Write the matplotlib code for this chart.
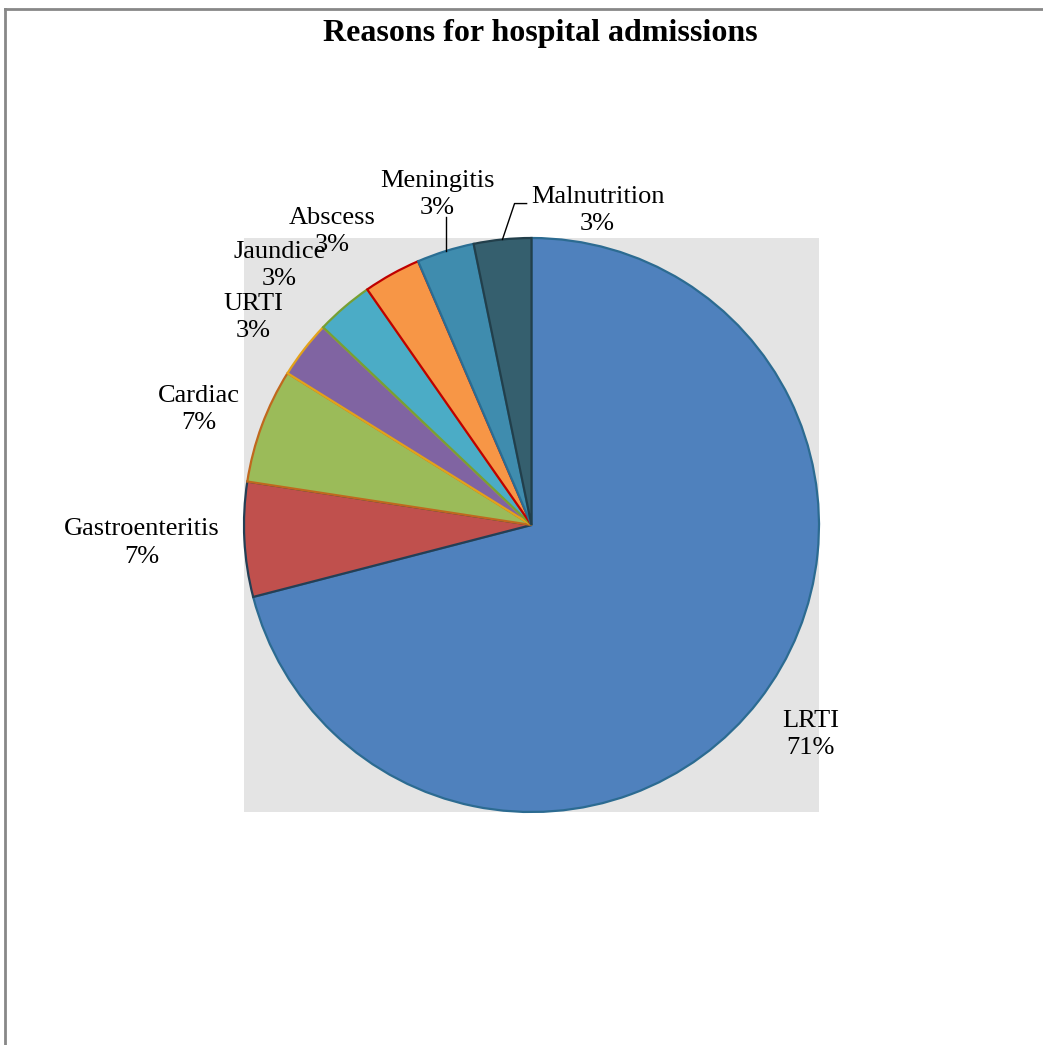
import matplotlib
matplotlib.use('Agg')
import matplotlib.pyplot as plt
from matplotlib.lines import Line2D

# Данные диаграммы
categories = ['LRTI', 'Gastroenteritis', 'Cardiac', 'URTI', 'Jaundice',
              'Abscess', 'Meningitis', 'Malnutrition']
counts = [22, 2, 2, 1, 1, 1, 1, 1]
pct_labels = ['71%', '7%', '7%', '3%', '3%', '3%', '3%', '3%']

face_colors = ['#4F81BD', '#C0504D', '#9BBB59', '#8064A2', '#4BACC6',
               '#F79646', '#3F8CAE', '#355F6E']
edge_colors = ['#2C6B91', '#243F55', '#C0681E', '#E3A21A', '#77A033',
               '#C00000', '#2A6E93', '#223F4B']

# положения подписей (в координатах осей)
label_pos = [(0.970, -0.730), (-1.357, -0.063), (-1.158, 0.403), (-0.967, 0.723),
             (-0.877, 0.904), (-0.692, 1.023), (-0.327, 1.151), (0.230, 1.096)]

plt.rcParams['font.family'] = ['Liberation Serif', 'DejaVu Serif']

fig = plt.figure(figsize=(10.43, 10.45), dpi=100)
ax = fig.add_axes([244 / 1043, 1 - 812 / 1045, 575 / 1043, 574 / 1045])

wedges, _ = ax.pie(counts, colors=face_colors, startangle=90, counterclock=False,
                   radius=1.0, wedgeprops=dict(linewidth=1.6))
for w, ec in zip(wedges, edge_colors):
    w.set_edgecolor(ec)

for name, pct, (x, y) in zip(categories, pct_labels, label_pos):
    ax.text(x, y, name + '\n' + pct, ha='center', va='center', fontsize=19,
            linespacing=1.32, clip_on=False)

# выноски
ax.plot([-0.297, -0.297], [1.073, 0.953], color='black', lw=1, clip_on=False)
ax.plot([-0.101, -0.059, -0.017], [0.995, 1.120, 1.120], color='black', lw=1, clip_on=False)

ax.set_frame_on(True)
ax.set_facecolor('#E4E4E4')
ax.set_xlim(-1, 1)
ax.set_ylim(-1, 1)
ax.set_aspect('auto')
ax.set_xticks([])
ax.set_yticks([])
for s in ax.spines.values():
    s.set_visible(False)

fig.text(540 / 1043, 1 - 34 / 1045, 'Reasons for hospital admissions',
         ha='center', va='center', fontsize=23, fontweight='bold')

# рамка диаграммы
fig.add_artist(Line2D([5 / 1043, 5 / 1043], [0, 1 - 9 / 1045], color='#888888', lw=2))
fig.add_artist(Line2D([5 / 1043, 1], [1 - 9 / 1045, 1 - 9 / 1045], color='#888888', lw=2))

fig.savefig('out.png', dpi=100)
